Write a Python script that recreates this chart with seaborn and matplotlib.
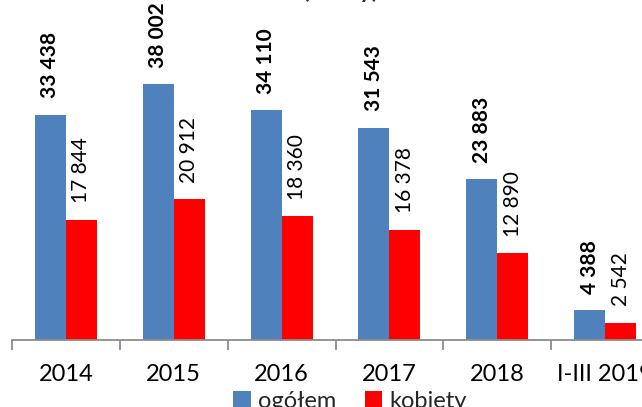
import matplotlib
matplotlib.use("Agg")
import matplotlib.pyplot as plt
import seaborn as sns
import pandas as pd
import numpy as np

categories = ["2014", "2015", "2016", "2017", "2018", "I-III 2019"]
ogolem = [33438, 38002, 34110, 31543, 23883, 4388]
kobiety = [17844, 20912, 18360, 16378, 12890, 2542]
series_names = ["ogółem", "kobiety"]
colors = ["#4F81BD", "#FF0000"]

def fmt(v):
    return f"{v:,}".replace(",", " ")

df = pd.DataFrame({
    "cat": categories * 2,
    "val": ogolem + kobiety,
    "series": [series_names[0]] * len(categories) + [series_names[1]] * len(categories),
})

sns.set_theme(style="white")
plt.rcParams["font.family"] = ["Lato", "DejaVu Sans"]

W, H = 642, 407
fig = plt.figure(figsize=(W / 100, H / 100), dpi=100)
ax = fig.add_axes([12 / W, 1 - 340 / H, 647 / W, 340 / H])

sns.barplot(data=df, x="cat", y="val", hue="series", palette=colors,
            width=0.576, gap=0, saturation=1, ax=ax, errorbar=None,
            linewidth=0)

ax.set_xlim(-0.5, 5.5)
ax.set_ylim(0, 340 / 0.00673)

for c, cont in enumerate(ax.containers):
    for bar, v in zip(cont, [ogolem, kobiety][c]):
        ax.annotate(fmt(v), (bar.get_x() + bar.get_width() / 2, bar.get_height()),
                    xytext=(0, 12), textcoords="offset points", rotation=90,
                    ha="center", va="bottom", fontsize=15,
                    fontweight="bold" if c == 0 else "normal", color="black")

for s in ["top", "right", "left"]:
    ax.spines[s].set_visible(False)
ax.spines["bottom"].set_color("#8c8c8c")
ax.spines["bottom"].set_linewidth(1.3)
ax.set_yticks([])
ax.set_xlabel("")
ax.set_ylabel("")
ax.set_xticks(range(len(categories)))
ax.set_xticklabels(categories, fontsize=17)
ax.set_xticks(np.arange(-0.5, 6.0, 1.0), minor=True)
ax.tick_params(axis="x", which="major", length=0, pad=17, colors="black")
ax.tick_params(axis="x", which="minor", length=7, width=1.3, color="#8c8c8c", bottom=True)

handles, labels = ax.get_legend_handles_labels()
if ax.get_legend() is not None:
    ax.get_legend().remove()
fig.legend(handles, labels, ncol=2, loc="upper center",
           bbox_to_anchor=(350 / W, 1 - 391 / H), frameon=False, fontsize=17,
           handlelength=0.75, handleheight=0.75, handletextpad=0.3,
           columnspacing=1.2, borderpad=0, borderaxespad=0)

fig.text(340 / W, 1 + 1.5 / H, "(osoby)", ha="center", va="baseline",
         fontsize=17, fontweight="bold")

fig.savefig("out.png", dpi=100)
